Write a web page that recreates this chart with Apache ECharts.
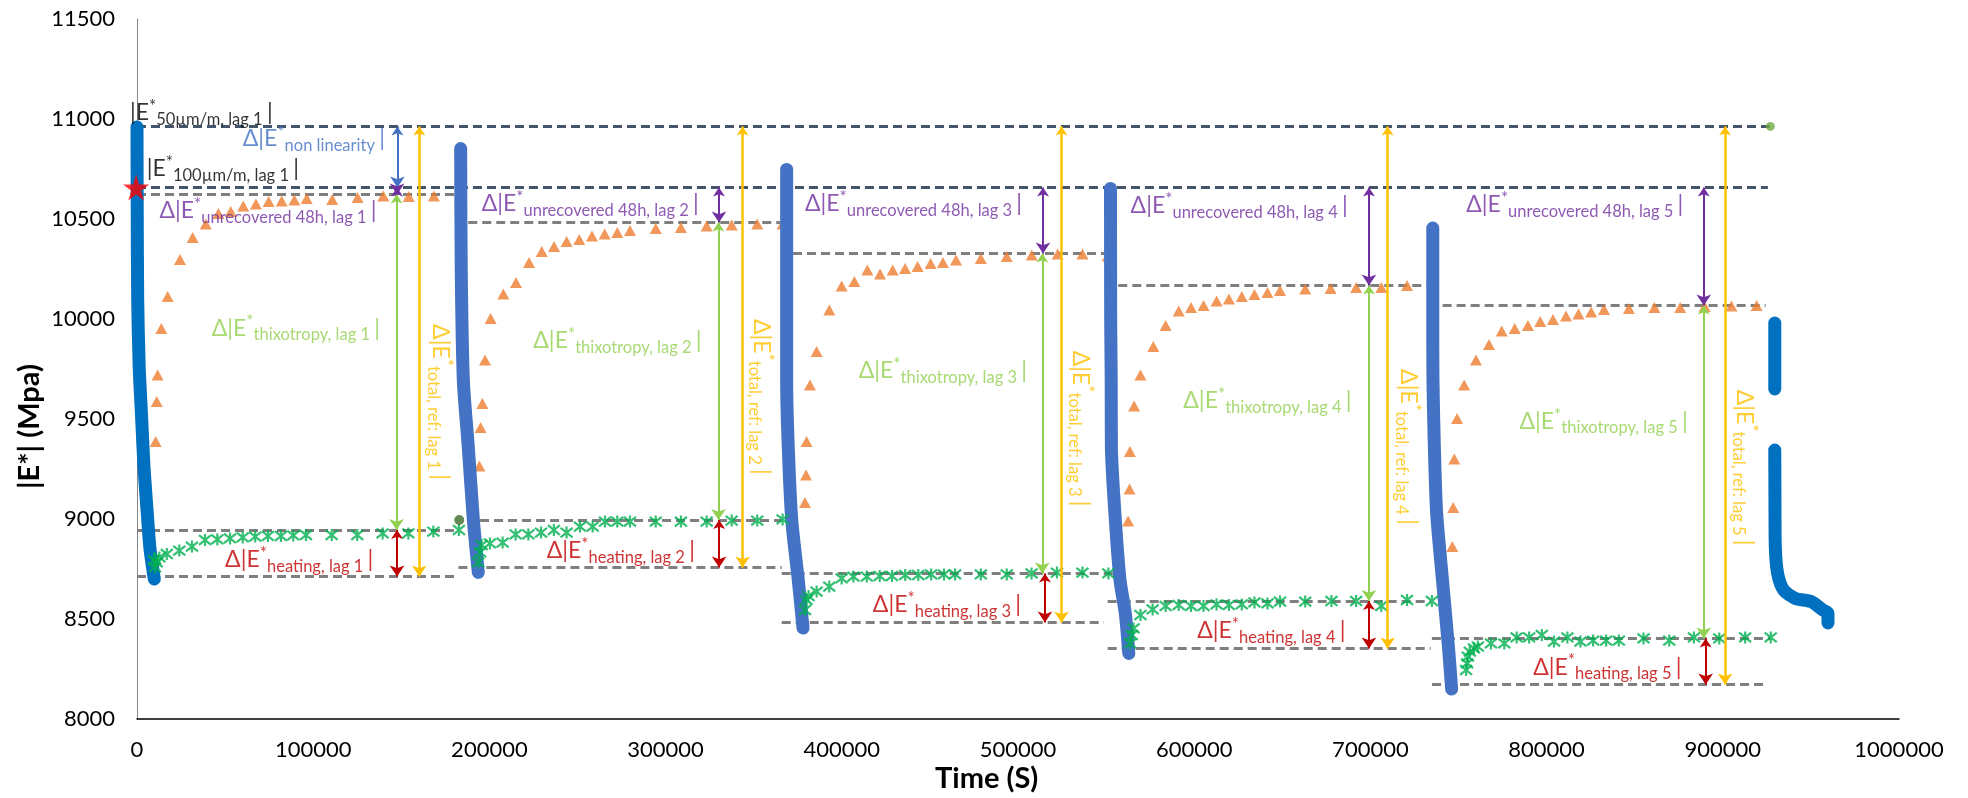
<!DOCTYPE html>
<html><head><meta charset="utf-8">
<script src="https://cdn.jsdelivr.net/npm/echarts@6/dist/echarts.min.js"></script>
<style>html,body{margin:0;padding:0;background:#fff}#c{width:1968px;height:798px}</style>
</head><body><div id="c"></div>
<script>
// ---------- tick labels ----------
const xTickLabels = ['0','100000','200000','300000','400000','500000','600000','700000','800000','900000','1000000'];
const yTickLabels = ['8000','8500','9000','9500','10000','10500','11000','11500'];

// ---------- |E*| relaxation (blue) [time, |E*|] ----------
const blueLag1 = [[0,10960],[100,10600],[400,10095],[1250,9760],[2670,9500],[3970,9260],[6070,9000],[7380,8850],[9820,8700]];
const blueLag2 = [[183700,10852],[184000,10262],[185200,9695],[188000,9362],[190900,8995],[193700,8733]];
const blueLag3 = [[368700,10748],[368700,10100],[368700,9695],[369600,9362],[371600,8995],[375300,8695],[378000,8455]];
const blueLag4 = [[552500,10653],[552600,10000],[552900,9695],[553000,9362],[555000,9028],[557900,8695],[560900,8528],[562900,8328]];
const blueLag5 = [[735400,10455],[735400,10000],[735500,9700],[736300,9360],[737600,9030],[740900,8695],[744300,8360],[746100,8150]];
const blueTailA = [[929500,9980],[929500,9650]];
const blueTailB = [[929500,9345],[929600,9100],[929800,8862],[931100,8728],[934500,8645],[941200,8603],[950100,8587],[956800,8545],[959700,8528],[959700,8480]];

// ---------- recovery (orange triangles) ----------
const orangeRecovery = [
 [10600,9387],[11200,9587],[11700,9720],[13800,9953],[17400,10112],[24400,10298],[31600,10408],[39000,10475],[46200,10528],[53200,10537],[60300,10565],[67500,10575],[74700,10587],[82100,10590],[89300,10595],[96300,10603],[110800,10598],[125200,10608],[139800,10615],[154200,10612],[168500,10615],
 [194300,9265],[195000,9457],[196000,9578],[197500,9795],[200700,10003],[207900,10125],[215100,10183],[222500,10282],[229700,10337],[236700,10362],[243800,10387],[251000,10398],[258200,10415],[265400,10425],[272600,10432],[279800,10442],[294400,10453],[308700,10458],[323300,10465],[337500,10470],[352000,10475],[366400,10475],
 [379100,9082],[379700,9220],[380000,9387],[381900,9670],[385700,9837],[392900,10045],[399900,10165],[407100,10187],[414500,10245],[421700,10225],[428900,10245],[435900,10253],[443000,10262],[450400,10278],[457400,10283],[464800,10295],[478900,10303],[493600,10312],[507800,10320],[522500,10325],[536600,10325],[550900,10315],
 [562500,8990],[563300,9150],[563500,9337],[565900,9565],[569500,9720],[576800,9862],[583800,9967],[591200,10040],[598200,10057],[605300,10067],[612700,10090],[619700,10100],[627000,10112],[634200,10123],[641600,10133],[648700,10142],[663000,10150],[677400,10153],[691900,10157],[706200,10158],[720800,10167],
 [746500,8862],[747000,9058],[747600,9300],[749200,9503],[753200,9670],[759900,9795],[767300,9873],[774500,9940],[781900,9953],[789400,9968],[796400,9987],[803600,9998],[811000,10015],[818100,10025],[825300,10035],[832600,10048],[846700,10053],[861200,10057],[875800,10057],[889700,10062],[904900,10065],[919200,10067]
];

// ---------- heating recovery (green asterisks) ----------
const greenRecovery = [
 [9600,8795],[10200,8758],[11200,8783],[12700,8808],[16900,8825],[24000,8842],[31200,8862],[38600,8895],[45600,8898],[52800,8903],[60000,8908],[67100,8912],[74300,8915],[81700,8915],[88700,8918],[95900,8920],[110500,8920],[125000,8920],[139400,8928],[154000,8928],[168200,8937],[182700,8945],
 [193700,8783],[194700,8833],[195600,8870],[200300,8878],[207500,8882],[214900,8923],[222100,8923],[229300,8932],[236600,8945],[243800,8932],[251400,8962],[258600,8962],[265600,8987],[272600,8987],[279800,8987],[294400,8987],[308700,8987],[323300,8987],[337500,8992],[352000,8992],[366400,8998],
 [379100,8545],[380000,8595],[381100,8615],[385700,8637],[392900,8662],[399900,8703],[406600,8712],[414200,8712],[421500,8715],[428500,8715],[436000,8720],[443400,8720],[450700,8723],[458000,8723],[464300,8723],[478900,8723],[493600,8723],[507700,8728],[522100,8732],[536600,8732],[551300,8728],
 [563600,8378],[564600,8420],[565600,8453],[569500,8520],[576400,8548],[583800,8565],[591200,8570],[598200,8565],[605300,8565],[612700,8573],[619700,8570],[627000,8573],[634200,8583],[641600,8578],[648700,8587],[663000,8587],[677900,8590],[691900,8590],[706200,8565],[720800,8595],[734900,8590],
 [754300,8245],[754900,8278],[755300,8312],[756400,8337],[758800,8353],[761000,8362],[768400,8378],[776000,8378],[783000,8408],[790100,8408],[797300,8420],[804200,8387],[811800,8408],[819200,8387],[826400,8392],[833800,8392],[841000,8392],[855000,8403],[869600,8392],[883600,8408],[898000,8403],[912700,8408],[927200,8408]
];

// ---------- single points ----------
const refStar = [[-500,10658]];
const darkGreenDot = [[182900,8995]];
const lightGreenDot = [[927000,10963]];

// ---------- reference levels [tStart, tEnd, |E*|] ----------
const navyLevels = [[0,926700,10963],[0,925600,10658]];
const grayLevels = [
 [0,180500,10623],[0,181400,8945],[0,182200,8712],
 [188000,364900,10483],[194700,365900,8995],[182400,365900,8757],
 [372300,550000,10328],[365900,554000,8728],[365900,548800,8482],
 [556900,732000,10167],[550900,734200,8590],[550900,734200,8353],
 [741000,924300,10067],[734900,927000,8403],[735000,924300,8173]
];

// ---------- difference arrows [t, from, to] ----------
const nonLinArrows = [[147800,10963,10658]];
const unrecArrows = [[147600,10658,10623],[330300,10658,10483],[514200,10658,10328],[699200,10658,10167],[889200,10658,10067]];
const thixArrows = [[147300,10623,8945],[330000,10483,8995],[513800,10328,8728],[699200,10167,8590],[889200,10067,8403]];
const heatArrows = [[147600,8945,8712],[330400,8995,8757],[515300,8728,8482],[699200,8590,8353],[890300,8403,8173]];
const totalArrows = [[160200,10963,8712],[343700,10963,8757],[524700,10963,8482],[709800,10963,8353],[901300,10963,8173]];

// ---------- annotations: [t, |E*|] anchors ----------
const lagNames = ['lag 1','lag 2','lag 3','lag 4','lag 5'];
const refLabelAt = [[-4000,11030],[5500,10750]];
const refLabelSub = ['50µm/m, lag 1','100µm/m, lag 1'];
const nonLinLabelAt = [[60000,10900]];
const unrecLabelAt = [[12700,10541],[195600,10575],[379100,10575],[563900,10565],[754400,10570]];
const thixLabelAt = [[42400,9953],[224900,9891],[409600,9741],[593800,9591],[784600,9487]];
const heatLabelAt = [[50000,8795],[232500,8841],[417600,8570],[601700,8440],[792400,8258]];
const totalLabelAt = [[172000,9585],[354100,9611],[535700,9452],[721300,9360],[912500,9257]];

// ================== build ==================
const FONT = 'Lato, "Open Sans", sans-serif';
const C = {navy:'#44546A', gray:'#7F7F7F', blue1:'#0070C0', blue2:'#4472C4', orange:'#ED7D31', green:'#00B050',
  purple:'#7030A0', lgreen:'#92D050', red:'#C00000', yellow:'#FFC000', black:'#000000'};

function levelData(levels){ return levels.map(l => ({coords:[[l[0],l[2]],[l[1],l[2]]]})); }
function arrowData(arr){ return arr.map(a => ({coords:[[a[0],a[1]],[a[0],a[2]]]})); }
function rich(color){
  return {
    m:{fontFamily:FONT,fontSize:23,lineHeight:30,color:color},
    s:{fontFamily:FONT,fontSize:17,lineHeight:17,verticalAlign:'top',color:color},
    b:{fontFamily:FONT,fontSize:16.5,lineHeight:14,verticalAlign:'bottom',color:color}
  };
}
function dtext(sub, prefix){ return '{m|' + prefix + 'E}{s|*}{b|' + sub + ' }{m||}'; }

function annoItems(at, subs, color, prefix, vertical){
  return at.map((p,i) => ({
    value:p,
    label:{show:true, formatter: dtext(subs[i], prefix), rich:rich(color),
      position: vertical ? 'inside' : 'right', distance:0,
      rotate: vertical ? -90 : 0, align: vertical ? 'center' : 'left', verticalAlign:'middle'}
  }));
}

const annoData = [].concat(
  annoItems(refLabelAt, refLabelSub, C.black, '|', false),
  annoItems(nonLinLabelAt, ['non linearity'], C.blue2, 'Δ|', false),
  annoItems(unrecLabelAt, lagNames.map(l => 'unrecovered 48h, ' + l), C.purple, 'Δ|', false),
  annoItems(thixLabelAt, lagNames.map(l => 'thixotropy, ' + l), C.lgreen, 'Δ|', false),
  annoItems(heatLabelAt, lagNames.map(l => 'heating, ' + l), C.red, 'Δ|', false),
  annoItems(totalLabelAt, lagNames.map(l => 'total, ref: ' + l), C.yellow, 'Δ|', true)
);

function blueSeries(data, color){
  return {type:'line', data:data, symbol:'none', smooth:0.25, z:3, silent:true,
    lineStyle:{color:color, width:13, cap:'round', join:'round'}};
}
function arrowSeries(arr, color, width){
  return {type:'lines', coordinateSystem:'cartesian2d', data:arrowData(arr), z:6, silent:true,
    symbol:['arrow','arrow'], symbolSize:[9,11], lineStyle:{color:color, width:width, opacity:1}};
}

const starPath = 'path://M50,0L61,35L98,35L68,57L79,91L50,70L21,91L32,57L2,35L39,35Z';
const asteriskPath = 'path://M1,1L9,9M9,1L1,9M5,0L5,10';

const option = {
  animation:false,
  backgroundColor:'#ffffff',
  grid:{left:137, right:69, top:19, bottom:79, containLabel:false},
  xAxis:{type:'value', min:0, max:1000000, interval:100000,
    axisLine:{show:true, lineStyle:{color:'#000', width:1.5}}, axisTick:{show:false}, splitLine:{show:false},
    axisLabel:{fontFamily:FONT, fontSize:22, color:'#000', margin:20,
      formatter:v => xTickLabels[Math.round(v/100000)]}},
  yAxis:{type:'value', min:8000, max:11500, interval:500,
    axisLine:{show:true, lineStyle:{color:'#868686', width:1}}, axisTick:{show:false}, splitLine:{show:false},
    axisLabel:{fontFamily:FONT, fontSize:22, color:'#000', margin:22,
      formatter:v => yTickLabels[Math.round((v-8000)/500)]}},
  graphic:[
    {type:'text', left:15, top:364, rotation:Math.PI/2,
      style:{text:'|E*| (Mpa)', fontFamily:FONT, fontSize:29, fontWeight:'bold', fill:'#000'}},
    {type:'text', left:935, top:764,
      style:{text:'Time (S)', fontFamily:FONT, fontSize:29, fontWeight:'bold', fill:'#000'}}
  ],
  series:[
    {type:'lines', coordinateSystem:'cartesian2d', data:levelData(navyLevels), z:1, silent:true,
      lineStyle:{color:C.navy, width:3, type:[9,5], opacity:1}},
    {type:'lines', coordinateSystem:'cartesian2d', data:levelData(grayLevels), z:1, silent:true,
      lineStyle:{color:C.gray, width:3, type:[9,5], opacity:1}},
    {type:'scatter', data:orangeRecovery, symbol:'triangle', symbolSize:[12,11], z:2, silent:true,
      itemStyle:{color:C.orange}},
    blueSeries(blueLag1, C.blue1),
    blueSeries(blueLag2, C.blue2),
    blueSeries(blueLag3, C.blue2),
    blueSeries(blueLag4, C.blue2),
    blueSeries(blueLag5, C.blue2),
    blueSeries(blueTailA, C.blue1),
    blueSeries(blueTailB, C.blue1),
    {type:'scatter', data:greenRecovery, symbol:asteriskPath, symbolSize:12, z:4, silent:true,
      itemStyle:{color:C.green, borderColor:C.green, borderWidth:2.2}},
    {type:'scatter', data:darkGreenDot, symbol:'circle', symbolSize:10, z:4, silent:true, itemStyle:{color:'#3F6B2A'}},
    {type:'scatter', data:lightGreenDot, symbol:'circle', symbolSize:9, z:4, silent:true, itemStyle:{color:'#70AD47'}},
    {type:'scatter', data:refStar, symbol:starPath, symbolSize:26, z:5, silent:true, clip:false, itemStyle:{color:'#FF0000'}},
    arrowSeries(totalArrows, C.yellow, 2.5),
    arrowSeries(thixArrows, C.lgreen, 2),
    arrowSeries(heatArrows, C.red, 2),
    arrowSeries(nonLinArrows, C.blue2, 2),
    arrowSeries(unrecArrows, C.purple, 2),
    {type:'scatter', data:annoData, symbolSize:0, z:7, silent:true, clip:false, itemStyle:{color:'rgba(0,0,0,0)'}}
  ]
};
const chart = echarts.init(document.getElementById('c'));
chart.setOption(option);
</script></body></html>
